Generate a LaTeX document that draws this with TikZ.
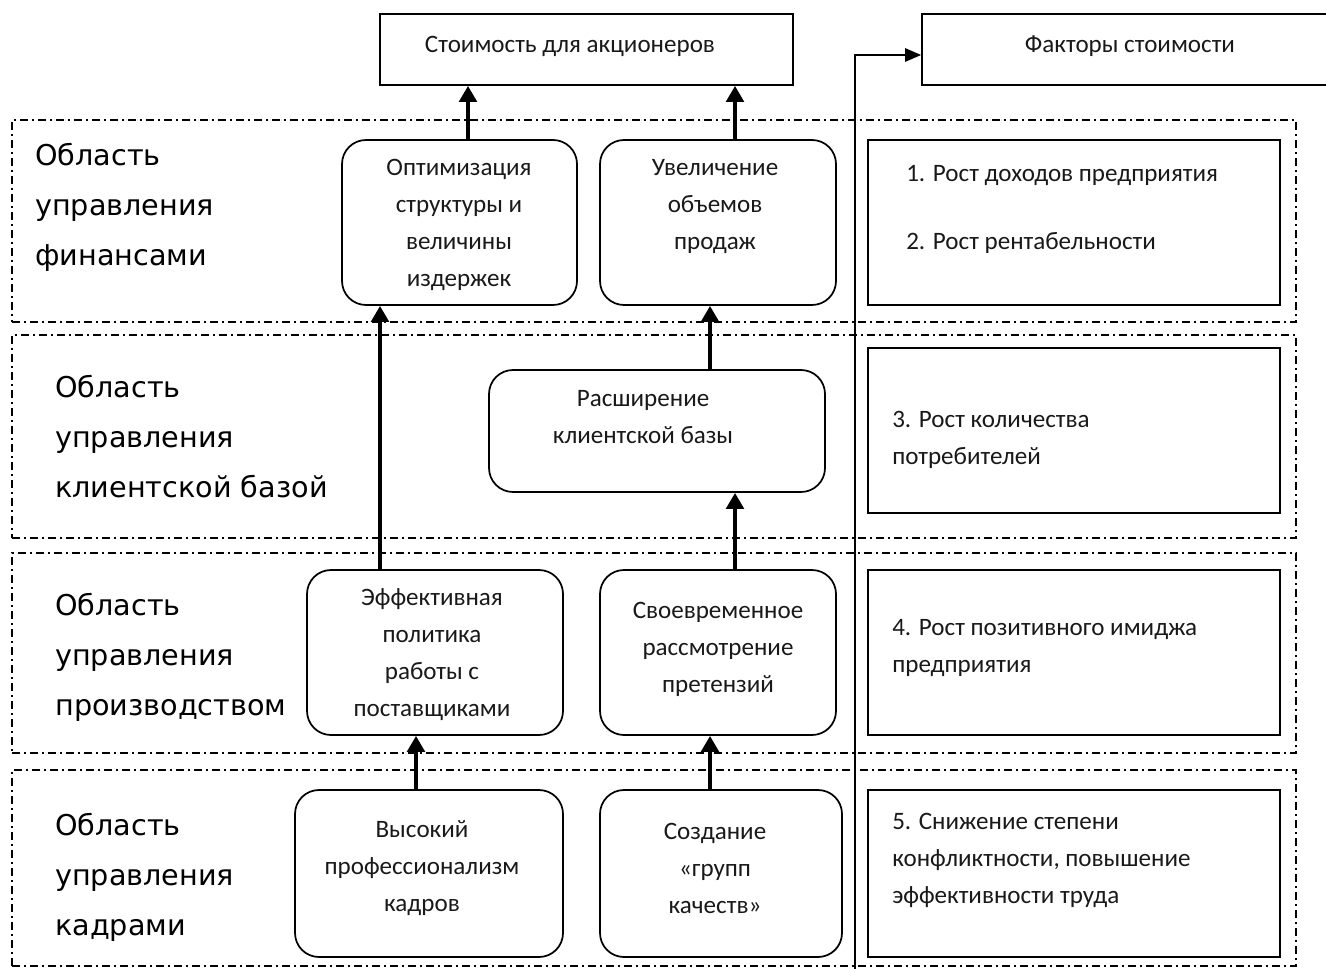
\documentclass[tikz,border=0pt]{standalone}
\usepackage{fontspec}
\setmainfont{Carlito}
\newfontfamily\labfont{DejaVu Sans}
\usetikzlibrary{arrows.meta,fit,calc}
\begin{document}
\begin{tikzpicture}[x=0.75pt,y=-0.75pt,
  band/.style={draw, line width=1.3pt, dash pattern=on 6pt off 3pt on 1.5pt off 3pt},
  rbox/.style={draw, line width=1.3pt, rounded corners=18pt, inner sep=0pt},
  fbox/.style={draw, line width=1.6pt, inner sep=0pt},
  sbox/.style={draw, line width=1.3pt, inner sep=0pt},
  btext/.style={inner sep=0pt, align=center, text=black!90, font=\fontsize{18.8}{27.75}\selectfont},
  ltext/.style={inner sep=0pt, align=left, text=black!90, font=\fontsize{18.8}{27.75}\selectfont},
  area/.style={inner sep=0pt, align=left, anchor=west, text=black, font=\labfont\fontsize{21.5}{37.5}\selectfont},
  bigarrow/.style={line width=3.6pt, -{Triangle[length=12pt,width=13pt]}},
  thinarrow/.style={line width=1.3pt, -{Triangle[length=12pt,width=10pt]}}
]
\useasboundingbox (0,0) rectangle (1326,969);
% bands
\node[band, inner sep=0pt, fit={(12,120) (1296,322)}] (b1) {};
\node[band, inner sep=0pt, fit={(12,335) (1296,538)}] (b2) {};
\node[band, inner sep=0pt, fit={(12,553) (1296,753)}] (b3) {};
\node[band, inner sep=0pt, fit={(12,770) (1296,966)}] (b4) {};
% top boxes
\node[sbox, fit={(380,14) (793,85)}] (top) {};
\node[btext] (ttop) at (570,46) {Стоимость для акционеров};
\node[sbox, fit={(922,14) (1330,85)}] (fak) {};
\node[btext] (tfak) at (1130,46) {Факторы стоимости};
% area labels
\node[area] (l1) at (35,207) {Область\\управления\\финансами};
\node[area] (l2) at (55,437) {Область\\управления\\клиентской базой};
\node[area] (l3) at (55,657) {Область\\управления\\производством};
\node[area] (l4) at (55,877) {Область\\управления\\кадрами};
% rounded boxes
\node[rbox, fit={(342,140) (577,305)}] (opt) {};
\node[btext] (topt) at (459,225) {Оптимизация\\структуры и\\величины\\издержек};
\node[rbox, fit={(600,140) (836,305)}] (uve) {};
\node[btext] (tuve) at (715,207) {Увеличение\\объемов\\продаж};
\node[rbox, fit={(489,370) (825,492)}] (ras) {};
\node[btext] (tras) at (643,417) {Расширение\\клиентской базы};
\node[rbox, fit={(307,570) (563,735)}] (eff) {};
\node[btext] (teff) at (432,655) {Эффективная\\политика\\работы с\\поставщиками};
\node[rbox, fit={(600,570) (836,735)}] (svo) {};
\node[btext] (tsvo) at (718,649) {Своевременное\\рассмотрение\\претензий};
\node[rbox, fit={(295,790) (563,957)}] (vys) {};
\node[btext] (tvys) at (422,868) {Высокий\\профессионализм\\кадров};
\node[rbox, fit={(600,790) (842,957)}] (soz) {};
\node[btext] (tsoz) at (715,868) {Создание\\«групп\\качеств»};
% right boxes
\node[fbox, fit={(868,140) (1280,305)}] (r1) {};
\node[ltext, anchor=west] (tr1a) at (906,175) {1. Рост доходов предприятия};
\node[ltext, anchor=west] (tr1b) at (906,243) {2. Рост рентабельности};
\node[fbox, fit={(868,348) (1280,513)}] (r2) {};
\node[ltext, anchor=west] (tr2) at (892,440) {3. Рост количества\\потребителей};
\node[fbox, fit={(868,570) (1280,735)}] (r3) {};
\node[ltext, anchor=west] (tr3) at (892,648) {4. Рост позитивного имиджа\\предприятия};
\node[fbox, fit={(868,790) (1280,957)}] (r4) {};
\node[ltext, anchor=west] (tr4) at (892,860) {5. Снижение степени\\конфликтности, повышение\\эффективности труда};
% arrow x positions
\coordinate (x1) at (468,0);
\coordinate (x2) at (735,0);
\coordinate (x3) at (380,0);
\coordinate (x4) at (710,0);
\coordinate (x6) at (416,0);
\draw[bigarrow] (opt.north -| x1) -- (top.south -| x1);
\draw[bigarrow] (uve.north -| x2) -- (top.south -| x2);
\draw[bigarrow] (eff.north -| x3) -- (opt.south -| x3);
\draw[bigarrow] (ras.north -| x4) -- (uve.south -| x4);
\draw[bigarrow] (svo.north -| x2) -- (ras.south -| x2);
\draw[bigarrow] (vys.north -| x6) -- (eff.south -| x6);
\draw[bigarrow] (soz.north -| x4) -- (svo.south -| x4);
% vertical connector
\coordinate (vb) at (855,975);
\coordinate (ay) at (0,55);
\draw[thinarrow] (vb) -- (vb |- ay) -- (fak.west |- ay);
\end{tikzpicture}
\end{document}
